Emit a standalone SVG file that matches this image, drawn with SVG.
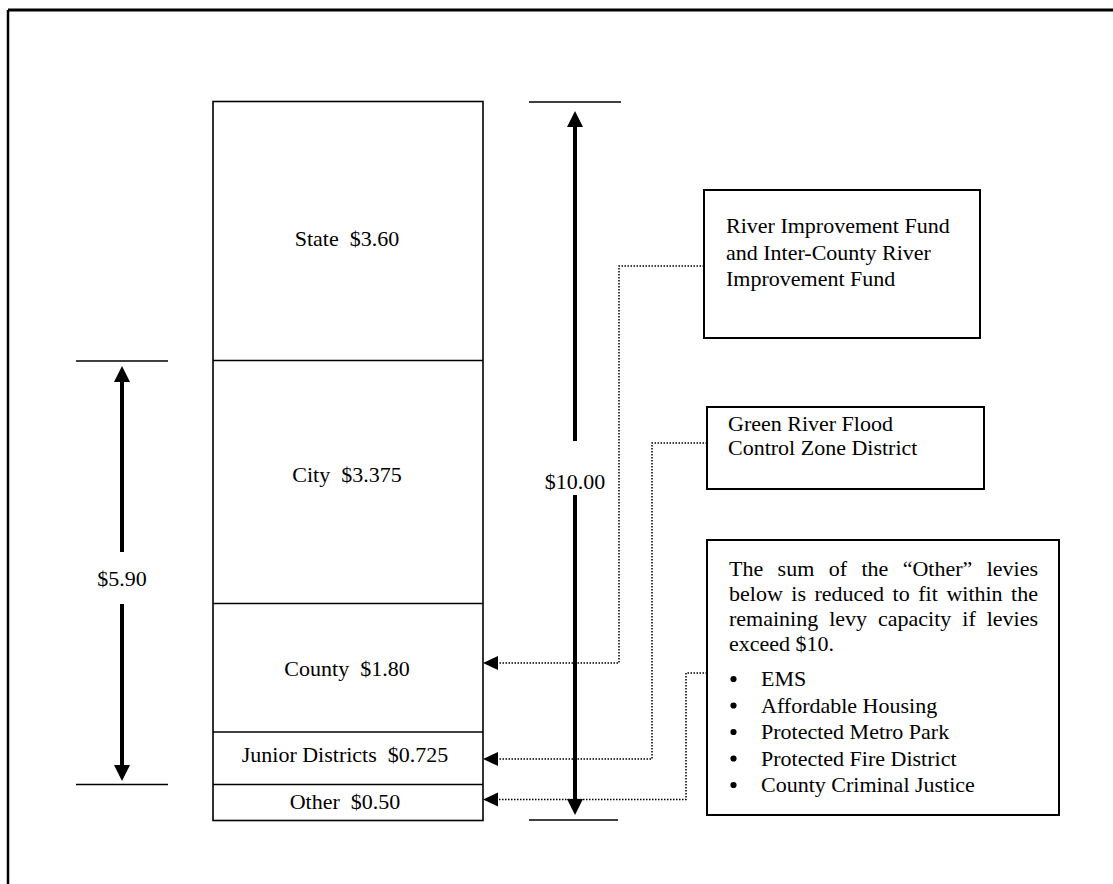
<svg xmlns="http://www.w3.org/2000/svg" width="1113" height="884" viewBox="0 0 1113 884">
<style>
  .t { font-family: "Liberation Serif", "Times New Roman", serif; font-size: 22px; fill: #000; white-space: pre; }
  .c { text-anchor: middle; }
  .box { fill: #fff; stroke: #000; stroke-width: 2; }
  .seg { fill: none; stroke: #000; stroke-width: 1.6; }
  .tick { stroke: #000; stroke-width: 1.5; }
  .shaft { stroke: #000; stroke-width: 4; }
  .dot { fill: none; stroke: #000; stroke-width: 1.5; stroke-dasharray: 1.5 1.5; }
</style>
<defs>
  <marker id="bigHead" markerUnits="userSpaceOnUse" markerWidth="16" markerHeight="16" refX="0" refY="8" orient="auto" overflow="visible">
    <path d="M0,0 L16,8 L0,16 Z" fill="#000"/>
  </marker>
  <marker id="dotHead" markerUnits="userSpaceOnUse" markerWidth="15" markerHeight="14" refX="0" refY="7" orient="auto" overflow="visible">
    <path d="M0,0 L15,7 L0,14 Z" fill="#000"/>
  </marker>
</defs>
<rect x="0" y="0" width="1113" height="884" fill="#fff"/>
<g id="frame">
  <line x1="8" y1="10" x2="1113" y2="10" stroke="#000" stroke-width="3"/>
  <line x1="8" y1="10" x2="8" y2="884" stroke="#000" stroke-width="2.5"/>
</g>
<g id="levy-stack">
  <rect x="213" y="101.5" width="270" height="719" class="seg"/>
  <line x1="213" y1="360.5" x2="483" y2="360.5" class="seg"/>
  <line x1="213" y1="603.5" x2="483" y2="603.5" class="seg"/>
  <line x1="213" y1="732" x2="483" y2="732" class="seg"/>
  <line x1="213" y1="784.5" x2="483" y2="784.5" class="seg"/>
</g>
<g id="state"><text class="t c" x="347" y="246">State  $3.60</text></g>
<g id="city"><text class="t c" x="347" y="482">City  $3.375</text></g>
<g id="county"><text class="t c" x="347" y="676">County  $1.80</text></g>
<g id="junior"><text class="t c" x="345" y="762">Junior Districts  $0.725</text></g>
<g id="other"><text class="t c" x="345" y="809">Other  $0.50</text></g>
<g id="dim-5-90">
  <line x1="76" y1="361" x2="168" y2="361" class="tick"/>
  <line x1="76" y1="784.5" x2="168" y2="784.5" class="tick"/>
  <line x1="122" y1="552" x2="122" y2="382" class="shaft" marker-end="url(#bigHead)"/>
  <line x1="122" y1="604" x2="122" y2="765" class="shaft" marker-end="url(#bigHead)"/>
  <text class="t c" x="122" y="586">$5.90</text>
</g>
<g id="dim-10-00">
  <line x1="529" y1="102" x2="621" y2="102" class="tick"/>
  <line x1="529" y1="820" x2="618" y2="820" class="tick"/>
  <line x1="575" y1="441" x2="575" y2="127" class="shaft" marker-end="url(#bigHead)"/>
  <line x1="575" y1="495" x2="575" y2="799" class="shaft" marker-end="url(#bigHead)"/>
  <text class="t c" x="575" y="489">$10.00</text>
</g>
<g id="river-box">
  <rect x="704" y="190" width="276" height="148" class="box"/>
  <text class="t" x="726" y="233">River Improvement Fund</text>
  <text class="t" x="726" y="260">and Inter-County River</text>
  <text class="t" x="726" y="286">Improvement Fund</text>
</g>
<g id="green-river-box">
  <rect x="707" y="407" width="277" height="82" class="box"/>
  <text class="t" x="728" y="431">Green River Flood</text>
  <text class="t" x="728" y="455">Control Zone District</text>
</g>
<g id="other-box">
  <rect x="707" y="540" width="352" height="275" class="box"/>
  <text class="t" y="576"><tspan x="729">The</tspan><tspan x="777.6">sum</tspan><tspan x="828.7">of</tspan><tspan x="861.4">the</tspan><tspan x="902.7">“Other”</tspan><tspan x="986.7">levies</tspan></text>
  <text class="t" y="601"><tspan x="729">below</tspan><tspan x="791.3">is</tspan><tspan x="814.5">reduced</tspan><tspan x="892.6">to</tspan><tspan x="918.3">fit</tspan><tspan x="946.4">within</tspan><tspan x="1011.1">the</tspan></text>
  <text class="t" y="626"><tspan x="729">remaining</tspan><tspan x="829.2">levy</tspan><tspan x="878">capacity</tspan><tspan x="962.3">if</tspan><tspan x="986.7">levies</tspan></text>
  <text class="t" x="729" y="651">exceed $10.</text>
  <circle cx="733.5" cy="679" r="3.1"/>
  <circle cx="733.5" cy="705.5" r="3.1"/>
  <circle cx="733.5" cy="732" r="3.1"/>
  <circle cx="733.5" cy="758.5" r="3.1"/>
  <circle cx="733.5" cy="785" r="3.1"/>
  <text class="t" x="761" y="686">EMS</text>
  <text class="t" x="761" y="712.5">Affordable Housing</text>
  <text class="t" x="761" y="739">Protected Metro Park</text>
  <text class="t" x="761" y="765.5">Protected Fire District</text>
  <text class="t" x="761" y="792">County Criminal Justice</text>
</g>
<g id="connectors">
  <path d="M704,266 H619 V663 H498" class="dot" marker-end="url(#dotHead)"/>
  <path d="M707,443 H652 V759 H498" class="dot" marker-end="url(#dotHead)"/>
  <path d="M707,673 H686 V799.5 H498" class="dot" marker-end="url(#dotHead)"/>
</g>
</svg>
